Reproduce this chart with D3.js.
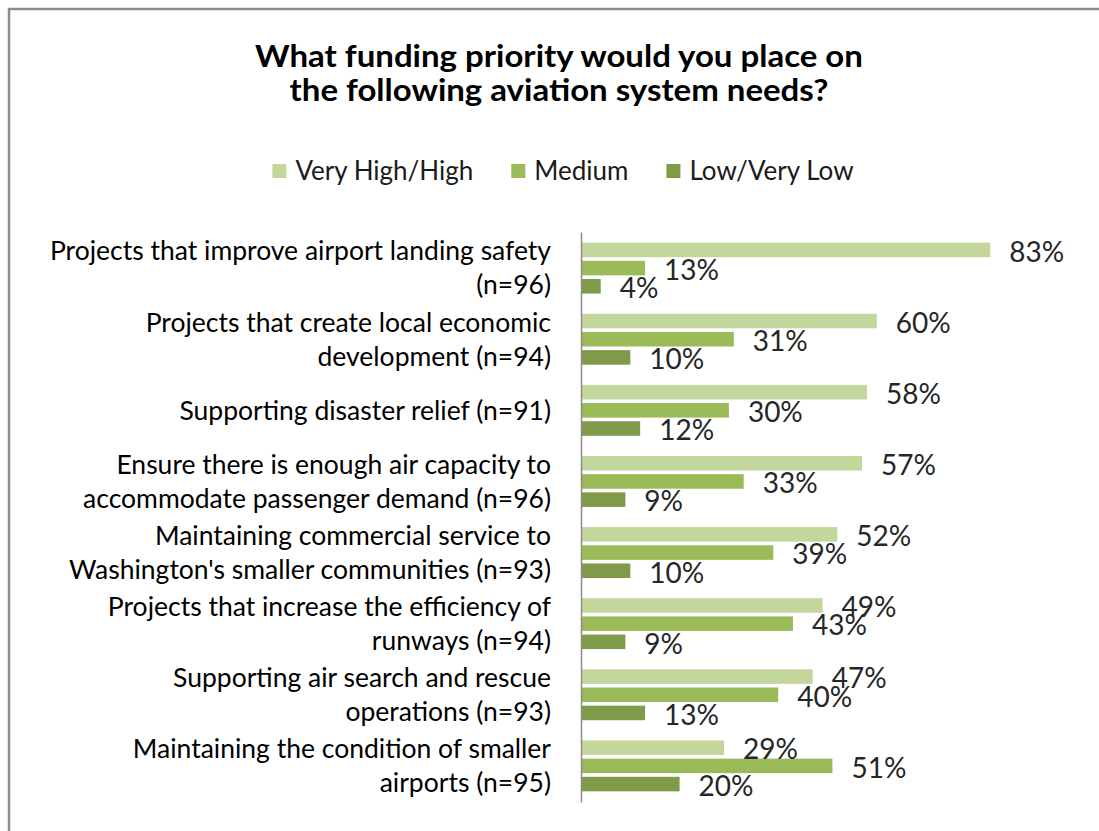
<!DOCTYPE html>
<html>
<head>
<meta charset="utf-8">
<script src="https://cdn.jsdelivr.net/npm/d3@7"></script>
<style>
  html, body { margin: 0; padding: 0; background: #ffffff; }
  svg { display: block; }
  text { font-family: Lato, "Open Sans", sans-serif; }
</style>
</head>
<body>
<svg id="chart" width="1099" height="831"></svg>
<script>
// Survey categories (each entry is the wrapped label lines)
const categories = [
  ["Projects that improve airport landing safety", "(n=96)"],
  ["Projects that create local economic", "development (n=94)"],
  ["Supporting disaster relief (n=91)"],
  ["Ensure there is enough air capacity to", "accommodate passenger demand (n=96)"],
  ["Maintaining commercial service to", "Washington's smaller communities (n=93)"],
  ["Projects that increase the efficiency of", "runways (n=94)"],
  ["Supporting air search and rescue", "operations (n=93)"],
  ["Maintaining the condition of smaller", "airports (n=95)"]
];

const seriesNames = ["Very High/High", "Medium", "Low/Very Low"];
const veryHighHigh = [83, 60, 58, 57, 52, 49, 47, 29];
const medium       = [13, 31, 30, 33, 39, 43, 40, 51];
const lowVeryLow   = [4, 10, 12, 9, 10, 9, 13, 20];
const seriesColors = ["#c3d69b", "#9bbb59", "#7f9a48"];

const titleLines = ["What funding priority would you place on", "the following aviation system needs?"];

const svg = d3.select("#chart");

// outer chart border
svg.append("rect")
  .attr("x", 9).attr("y", 9)
  .attr("width", 1120).attr("height", 840)
  .attr("fill", "#ffffff")
  .attr("stroke", "#8c8c8c")
  .attr("stroke-width", 2.5);

// title (slightly widened lettering)
const titleCx = 559;
const title = svg.append("text")
  .attr("text-anchor", "middle")
  .attr("font-size", 30)
  .attr("font-weight", "bold")
  .attr("fill", "#000")
  .attr("transform", `translate(${titleCx},0) scale(1.1,1) translate(${-titleCx},0)`);
titleLines.forEach((t, i) => {
  title.append("tspan").attr("x", titleCx).attr("y", 67 + i * 34).text(t);
});

// legend
const legend = svg.append("g");
let lx = 0;
seriesNames.forEach((name, i) => {
  const g = legend.append("g").attr("transform", `translate(${lx},0)`);
  g.append("rect").attr("x", 0).attr("y", -7).attr("width", 14).attr("height", 14)
    .attr("fill", seriesColors[i]);
  const t = g.append("text").attr("x", 23).attr("y", 0).attr("dy", "0.35em")
    .attr("font-size", 26).attr("fill", "#1a1a1a").text(name);
  lx += 23 + t.node().getComputedTextLength() + 38;
});
const legendWidth = lx - 38;
legend.attr("transform", `translate(${563 - legendWidth / 2},171)`);

// scales
const idx = d3.range(categories.length);
const y0 = d3.scaleBand().domain(idx).range([232, 802]).paddingInner(0.284).paddingOuter(0.15);
const y1 = d3.scaleBand().domain(d3.range(3)).range([0, y0.bandwidth()]).paddingInner(0.2);
const x = d3.scaleLinear().domain([0, 100]).range([581, 581 + 493]);

const series = [veryHighHigh, medium, lowVeryLow];

const groups = svg.append("g").selectAll("g")
  .data(idx).join("g")
  .attr("transform", d => `translate(0,${y0(d)})`);

groups.selectAll("rect")
  .data(d => series.map((s, k) => ({ k, v: s[d] })))
  .join("rect")
  .attr("x", x(0))
  .attr("y", d => y1(d.k))
  .attr("width", d => x(d.v) - x(0))
  .attr("height", y1.bandwidth())
  .attr("fill", d => seriesColors[d.k]);

// value labels
groups.selectAll("text.val")
  .data(d => series.map((s, k) => ({ k, v: s[d] })))
  .join("text")
  .attr("class", "val")
  .attr("x", d => x(d.v) + 19)
  .attr("y", d => y1(d.k) + y1.bandwidth() / 2 + 2)
  .attr("dy", "0.35em")
  .attr("font-size", 28)
  .attr("fill", "#262626")
  .text(d => d.v + "%");

// category axis line
svg.append("g")
  .attr("transform", `translate(${x(0)},0)`)
  .call(d3.axisLeft(y0).tickSize(0).tickFormat(""))
  .call(g => g.select(".domain").attr("stroke", "#8c8c8c").attr("stroke-width", 1.5));

// category labels
svg.append("g").selectAll("text")
  .data(idx).join("text")
  .attr("text-anchor", "end")
  .attr("font-size", 26.5)
  .attr("fill", "#000")
  .each(function (d) {
    const lines = categories[d];
    const cy = y0(d) + y0.bandwidth() / 2;
    const lh = 34;
    lines.forEach((ln, j) => {
      d3.select(this).append("tspan")
        .attr("x", 551)
        .attr("y", cy + (j - (lines.length - 1) / 2) * lh)
        .attr("dy", "0.35em")
        .text(ln);
    });
  });
</script>
</body>
</html>
